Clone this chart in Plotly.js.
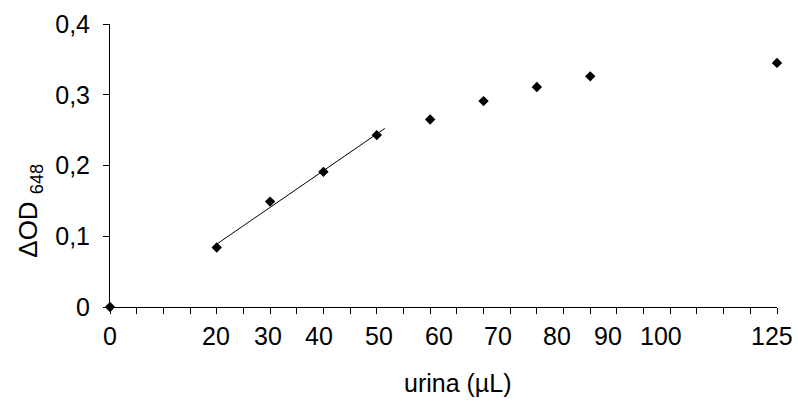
<!DOCTYPE html>
<html>
<head>
<meta charset="utf-8">
<script src="https://cdn.plot.ly/plotly-3.0.1.min.js"></script>
<style>html,body{margin:0;padding:0;background:#fff;}#chart{width:798px;height:406px;}</style>
</head>
<body>
<div id="chart"></div>
<script>
// Data
const volume = [0, 20, 30, 40, 50, 60, 70, 80, 90, 125];          // urina (µL)
const deltaOD = [0, 0.084, 0.149, 0.191, 0.243, 0.265, 0.291, 0.311, 0.326, 0.345];
const fitX = [20, 30, 40, 50];                                      // points used for linear fit
const fitRange = [20, 51.5];                                        // extent of drawn trendline
const xLabels = ['0', '20', '30', '40', '50', '60', '70', '80', '90', '100', '125'];
const xLabelPos = [0, 19.9, 29.6, 39.2, 50.5, 61.6, 72.8, 83.8, 93.4, 103.3, 124.1];

// linear regression on fit points
const fitY = fitX.map(x => deltaOD[volume.indexOf(x)]);
const n = fitX.length;
const mx = fitX.reduce((a,b)=>a+b,0)/n;
const my = fitY.reduce((a,b)=>a+b,0)/n;
let sxy = 0, sxx = 0;
for (let i=0;i<n;i++){ sxy += (fitX[i]-mx)*(fitY[i]-my); sxx += (fitX[i]-mx)**2; }
const slope = sxy/sxx, icpt = my - slope*mx;
const lineY = fitRange.map(x => icpt + slope*x);

const font = 'Liberation Sans, Arial, sans-serif';

const traces = [
  {x: fitRange, y: lineY, mode: 'lines', line: {color: '#000', width: 1}, hoverinfo: 'skip', cliponaxis: false},
  {x: volume, y: deltaOD, mode: 'markers', marker: {symbol: 'diamond', size: 8, color: '#000'}, cliponaxis: false}
];

const annotations = xLabels.map((t, i) => ({
  text: t, x: xLabelPos[i], xref: 'x', y: -0.101, yref: 'paper',
  xanchor: 'center', yanchor: 'middle', showarrow: false,
  font: {family: font, size: 25, color: '#000'}
}));
annotations.push({
  text: 'urina (µL)', x: 0.522, xref: 'paper', y: -0.267, yref: 'paper',
  xanchor: 'center', yanchor: 'middle', showarrow: false,
  font: {family: font, size: 25, color: '#000'}
});
annotations.push({
  text: 'ΔOD <sub>648</sub>', x: -0.12, xref: 'paper', y: 0.34, yref: 'paper',
  xanchor: 'center', yanchor: 'middle', showarrow: false, textangle: -90,
  font: {family: font, size: 26, color: '#000'}
});

const layout = {
  width: 798, height: 406,
  margin: {l: 110, r: 21, t: 24, b: 98.7},
  paper_bgcolor: '#fff', plot_bgcolor: '#fff',
  showlegend: false,
  separators: ', ',
  font: {family: font, size: 25, color: '#000'},
  xaxis: {
    range: [0, 125], tick0: 0, dtick: 5, showticklabels: false,
    ticks: 'outside', ticklen: 6, tickcolor: '#000', tickwidth: 1,
    showline: true, linecolor: '#000', linewidth: 1,
    showgrid: false, zeroline: false, fixedrange: true
  },
  yaxis: {
    range: [0, 0.4], tick0: 0, dtick: 0.1,
    ticks: 'outside', ticklen: 6, tickcolor: '#000', tickwidth: 1,
    ticklabelstandoff: 8,
    tickfont: {family: font, size: 25, color: '#000'},
    showline: true, linecolor: '#000', linewidth: 1,
    showgrid: false, zeroline: false, fixedrange: true
  },
  annotations: annotations
};

Plotly.newPlot('chart', traces, layout, {staticPlot: true, displayModeBar: false});
</script>
</body>
</html>
